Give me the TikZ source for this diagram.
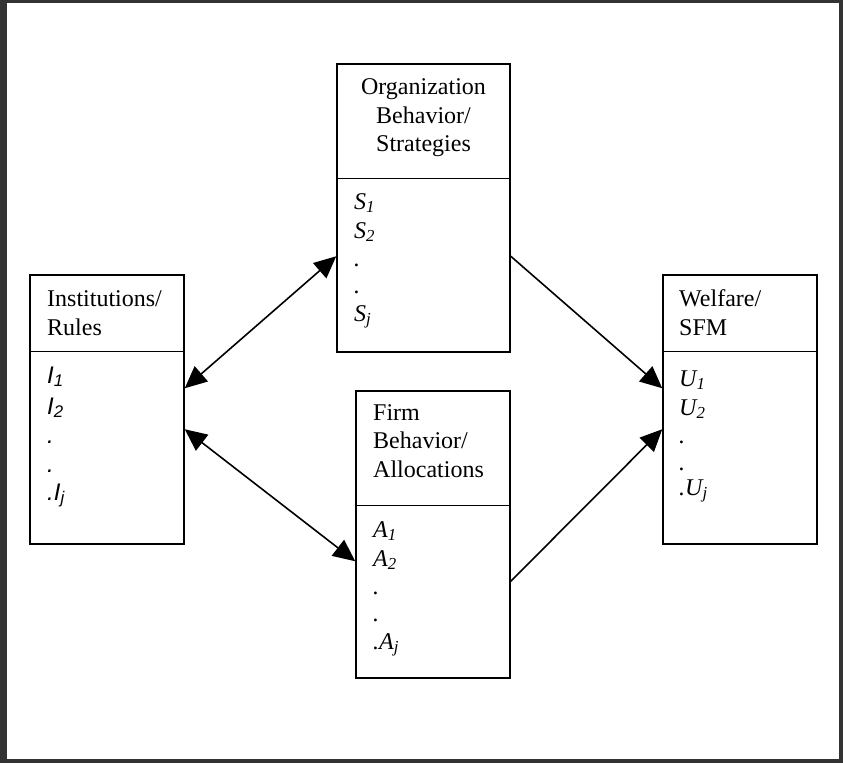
\documentclass[tikz,border=0pt]{standalone}
\usepackage{fontspec}
\setmainfont{Liberation Serif}
\newfontfamily\sansf{Liberation Sans}
\usetikzlibrary{arrows.meta}
\definecolor{framegray}{HTML}{333333}
\newcommand\sub[1]{\textsubscript{#1}}
\newcommand\ia[1]{{\sansf\itshape #1}}

\begin{document}
\begin{tikzpicture}[x=1pt,y=-1pt,
  box/.style={draw=black, line width=1.5pt, rectangle, inner sep=0pt},
  txt/.style={inner sep=0pt, anchor=base west, font=\fontsize{24}{28}\selectfont},
  ctxt/.style={inner sep=0pt, anchor=base, font=\fontsize{24}{28}\selectfont},
  >={Triangle[length=22pt,width=20pt]},
  link/.style={draw=black, line width=1.6pt}
]
% outer frame
\useasboundingbox (0,0) rectangle (843,763);
\fill[framegray] (0,0) rectangle (843,763);
\fill[white] (7,3) rectangle (839,759);

% boxes
\node[box, minimum width=154pt, minimum height=269pt] (inst) at (107,409.5) {};
\node[box, minimum width=173pt, minimum height=288pt] (org) at (423.5,208) {};
\node[box, minimum width=154pt, minimum height=287pt] (firm) at (433,534.5) {};
\node[box, minimum width=154pt, minimum height=269pt] (welf) at (740,409.5) {};

% header dividers
\draw[line width=1.5pt] ([yshift=-77pt]inst.north west) -- ([yshift=-77pt]inst.north east);
\draw[line width=1.5pt] ([yshift=-115pt]org.north west) -- ([yshift=-115pt]org.north east);
\draw[line width=1.5pt] ([yshift=-115pt]firm.north west) -- ([yshift=-115pt]firm.north east);
\draw[line width=1.5pt] ([yshift=-77pt]welf.north west) -- ([yshift=-77pt]welf.north east);

% headers
\node[txt] (inst-h1) at (47,306.5) {Institutions/};
\node[txt] (inst-h2) at (47,335) {Rules};
\node[ctxt] (org-h1) at (423.5,94) {Organization};
\node[ctxt] (org-h2) at (423.5,123) {Behavior/};
\node[ctxt] (org-h3) at (423.5,151) {Strategies};
\node[txt] (firm-h1) at (373,420) {Firm};
\node[txt] (firm-h2) at (373,448.5) {Behavior/};
\node[txt] (firm-h3) at (373,477) {Allocations};
\node[txt] (welf-h1) at (679,306.5) {Welfare/};
\node[txt] (welf-h2) at (679,335) {SFM};

% institution variables
\node[txt] (i1) at (47,383) {\ia{I\sub{1}}};
\node[txt] (i2) at (47,414) {\ia{I\sub{2}}};
\node[txt] (i3) at (47,443) {\ia{.}};
\node[txt] (i4) at (47,472) {\ia{.}};
\node[txt] (i5) at (47,500) {\ia{.I\sub{j}}};

% strategies
\node[txt] (s1) at (354,209) {\textit{S\sub{1}}};
\node[txt] (s2) at (354,238) {\textit{S\sub{2}}};
\node[txt] (s3) at (354,266) {\textit{.}};
\node[txt] (s4) at (354,293) {\textit{.}};
\node[txt] (s5) at (354,321) {\textit{S\sub{j}}};

% allocations
\node[txt] (a1) at (373,537) {\textit{A\sub{1}}};
\node[txt] (a2) at (373,566) {\textit{A\sub{2}}};
\node[txt] (a3) at (373,594) {\textit{.}};
\node[txt] (a4) at (373,621) {\textit{.}};
\node[txt] (a5) at (373,649) {\textit{.A\sub{j}}};

% welfare
\node[txt] (u1) at (679,386) {\textit{U\sub{1}}};
\node[txt] (u2) at (679,415) {\textit{U\sub{2}}};
\node[txt] (u3) at (679,443) {\textit{.}};
\node[txt] (u4) at (679,470) {\textit{.}};
\node[txt] (u5) at (679,495) {\textit{.U\sub{j}}};

% connectors
\draw[link, <->] ([yshift=-114pt]inst.north east) -- ([yshift=-193pt]org.north west);
\draw[link, <->] ([yshift=-155pt]inst.north east) -- ([yshift=-171pt]firm.north west);
\draw[link, ->] ([yshift=-193pt]org.north east) -- ([yshift=-114pt]welf.north west);
\draw[link, ->] ([yshift=-191pt]firm.north east) -- ([yshift=-155pt]welf.north west);
\end{tikzpicture}
\end{document}
